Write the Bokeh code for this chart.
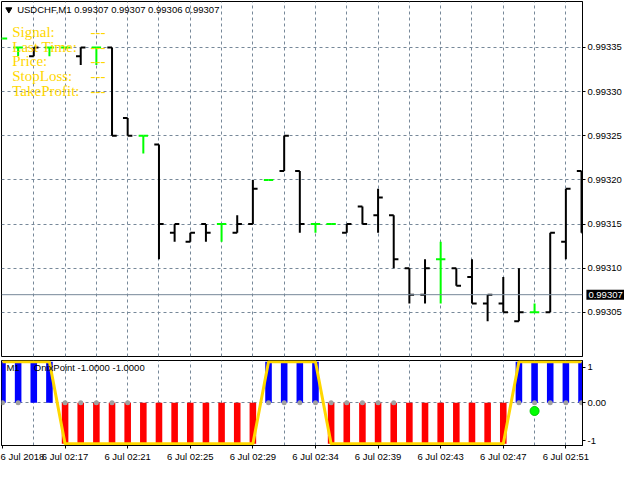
import numpy as np
from bokeh.plotting import figure
from bokeh.models import Range1d, FixedTicker, Label, Span, PrintfTickFormatter, ColumnDataSource, LinearAxis
from bokeh.layouts import column
from bokeh.embed import file_html
from bokeh.resources import INLINE

# ---------------- data ----------------
symbol = "USDCHF,M1"
header_quote = ["0.99307", "0.99307", "0.99306", "0.99307"]

opens = [0.99336, 0.99335, 0.99334, 0.99335, 0.99335, 0.99334, 0.99335, 0.99335, 0.99327, 0.99325,
         0.99324, 0.99314, 0.99313, 0.99315, 0.99315, 0.99314, 0.99315, 0.99320, 0.99321, 0.99321,
         0.99315, 0.99315, 0.99314, 0.99317, 0.99316, 0.99316, 0.99310, 0.99307, 0.99311, 0.99310,
         0.99309, 0.99306, 0.99306, 0.99304, 0.99305, 0.99305, 0.99313, 0.99321]
highs = [0.99336, 0.99335, 0.99335, 0.99335, 0.99335, 0.99335, 0.99335, 0.99335, 0.99327, 0.99325,
         0.99324, 0.99315, 0.99314, 0.99315, 0.99315, 0.99316, 0.99320, 0.99320, 0.99325, 0.99321,
         0.99315, 0.99315, 0.99315, 0.99317, 0.99319, 0.99316, 0.99310, 0.99311, 0.99313, 0.99310,
         0.99311, 0.99307, 0.99309, 0.99310, 0.99306, 0.99314, 0.99319, 0.99321]
lows = [0.99336, 0.99334, 0.99334, 0.99334, 0.99335, 0.99333, 0.99333, 0.99325, 0.99325, 0.99323,
        0.99311, 0.99313, 0.99313, 0.99313, 0.99313, 0.99314, 0.99315, 0.99320, 0.99321, 0.99314,
        0.99314, 0.99315, 0.99314, 0.99315, 0.99314, 0.99310, 0.99306, 0.99306, 0.99306, 0.99308,
        0.99306, 0.99304, 0.99305, 0.99304, 0.99305, 0.99305, 0.99311, 0.99314]
closes = [0.99336, 0.99335, 0.99335, 0.99335, 0.99335, 0.99335, 0.99335, 0.99325, 0.99325, 0.99325,
          0.99315, 0.99315, 0.99314, 0.99314, 0.99315, 0.99315, 0.99319, 0.99320, 0.99325, 0.99315,
          0.99315, 0.99315, 0.99315, 0.99315, 0.99318, 0.99311, 0.99307, 0.99310, 0.99311, 0.99308,
          0.99306, 0.99307, 0.99305, 0.99305, 0.99305, 0.99314, 0.99319, 0.99314]

current_price = 0.99307
price_ticks = [0.99305, 0.99310, 0.99315, 0.99320, 0.99325, 0.99330, 0.99335]

time_tick_bars = [0, 4, 8, 12, 16, 20, 24, 28, 32, 36]
time_tick_labels = ["6 Jul 2018", "6 Jul 02:17", "6 Jul 02:21", "6 Jul 02:25", "6 Jul 02:29",
                    "6 Jul 02:34", "6 Jul 02:39", "6 Jul 02:43", "6 Jul 02:47", "6 Jul 02:51"]

signal = [1, 1, 1, 1] + [-1] * 13 + [1, 1, 1, 1] + [-1] * 12 + [1] * 5
dot_bars = [0, 1, 4, 5, 6, 7, 8, 17, 18, 19, 20, 21, 22, 23, 24, 25, 33, 34, 35, 36, 37]
dot_values = [0.0] * len(dot_bars)
entry_bar = 34
entry_value = -0.2

# indicator scale levels and where their labels sit inside the sub-window
level_texts = ["-1", "0.00", "1"]
level_label_pos = [-0.92, 0.0, 0.87]

indicator_period = "M1"
indicator_name = "OnixPoint"
indicator_values = ["-1.0000", "-1.0000"]

info_labels = ["Signal:", "Last Time:", "Price:", "StopLoss:", "TakeProfit:"]
info_values = ["---", "---", "---", "---", "---"]

# ---------------- helpers (reference pixel -> data) ----------------
def main_xy(px, py):
    return (px - 3) / 16.0, 0.99305 + (322 - py) / 910000.0

def ind_xy(px, py):
    return (px - 3) / 16.0, (414 - py) / 43.0

GRID = "#778899"
FONT = "Liberation Sans"
n = len(opens)
idx = np.arange(n)
xr = Range1d(-0.0625, 37.0625)

# ---------------- main price chart ----------------
p1 = figure(width=624, height=358, x_range=xr, y_range=Range1d(0.99300, 0.993402),
            output_backend="svg", toolbar_location=None, x_axis_location=None,
            y_axis_location=None, min_border_left=1, min_border_right=42,
            min_border_top=1, min_border_bottom=2)
p1.background_fill_color = "white"
p1.border_fill_color = "white"
p1.outline_line_color = "black"
p1.outline_line_width = 1

p1.xgrid.ticker = FixedTicker(ticks=list(range(2, 37, 2)))
p1.ygrid.ticker = FixedTicker(ticks=price_ticks)
for g in (p1.xgrid, p1.ygrid):
    g.grid_line_color = GRID
    g.grid_line_dash = "3 3"
    g.grid_line_width = 1

# small tick marks on the price scale (no labels)
tick_axis = LinearAxis(ticker=FixedTicker(ticks=price_ticks),
                       major_label_overrides={t: "" for t in price_ticks})
tick_axis.major_tick_in = 0
tick_axis.major_tick_out = 3
tick_axis.major_label_standoff = 0
tick_axis.minor_tick_line_color = None
tick_axis.axis_line_color = "black"
tick_axis.major_tick_line_color = "black"
tick_axis.major_label_text_font_size = "9.5px"

# current price box on the price scale (side-panel label, so it is not clipped to the frame)
cx, _ = main_xy(600, 0)
price_box = Label(x=cx, y=current_price, text="%.5f" % current_price, text_font=FONT,
                  text_font_size="9.5px", text_color="white", text_baseline="middle",
                  text_align="left", background_fill_color="black", padding=2)

# price labels
ya = LinearAxis(ticker=FixedTicker(ticks=price_ticks), formatter=PrintfTickFormatter(format="%.5f"))
ya.major_tick_in = 0
ya.major_tick_out = 0
ya.minor_tick_line_color = None
ya.axis_line_color = None
ya.major_tick_line_color = None
ya.major_label_standoff = -36
ya.major_label_text_font = FONT
ya.major_label_text_font_size = "9.5px"
ya.major_label_text_color = "black"

p1.right = [tick_axis, price_box, ya]

p1.add_layout(Span(location=current_price, dimension="width", line_color=GRID, line_width=1))

o, h, l, c = (np.array(a) for a in (opens, highs, lows, closes))
doji = np.isclose(o, c)
bar_colors = np.where(doji, "#00FF00", "#000000")
src = ColumnDataSource(dict(x=idx, xl=idx - 0.3, xr=idx + 0.3, o=o, h=h, l=l, c=c, color=bar_colors))
p1.segment(x0="x", y0="l", x1="x", y1="h", line_color="color", line_width=2, source=src)
p1.segment(x0="xl", y0="o", x1="x", y1="o", line_color="color", line_width=2, source=src)
p1.segment(x0="x", y0="c", x1="xr", y1="c", line_color="color", line_width=2, source=src)

# header
tx, ty = main_xy(9.5, 10)
p1.scatter([tx], [ty], marker="inverted_triangle", size=6, color="black")
hx, hy = main_xy(18, 10)
p1.add_layout(Label(x=hx, y=hy, text=symbol + "  " + " ".join(header_quote), text_font=FONT,
                    text_font_size="9.5px", text_color="black", text_baseline="middle", text_align="left"))

# info block (gold serif)
for i, (lab, val) in enumerate(zip(info_labels, info_values)):
    lx, ly = main_xy(13, 33.5 + 15 * i)
    p1.add_layout(Label(x=lx, y=ly, text=lab, text_font="Liberation Serif", text_font_size="15px",
                        text_color="#FFD700", text_baseline="middle", text_align="left"))
    vx, vy = main_xy(93, 33.5 + 15 * i)
    p1.add_layout(Label(x=vx, y=vy, text=val, text_font="Liberation Serif", text_font_size="15px",
                        text_color="#FFD700", text_baseline="middle", text_align="left"))

# ---------------- indicator panel ----------------
p2 = figure(width=624, height=106, x_range=xr, y_range=Range1d(-1.04, 1.03),
            output_backend="svg", toolbar_location=None, y_axis_location="right",
            min_border_left=1, min_border_right=42, min_border_top=2, min_border_bottom=4)
p2.background_fill_color = "white"
p2.border_fill_color = "white"
p2.outline_line_color = "black"
p2.outline_line_width = 1

p2.xgrid.ticker = FixedTicker(ticks=list(range(2, 37, 2)))
p2.ygrid.ticker = FixedTicker(ticks=[0])
for g in (p2.xgrid, p2.ygrid):
    g.grid_line_color = GRID
    g.grid_line_dash = "3 3"
    g.grid_line_width = 1

xa = p2.xaxis[0]
xa.ticker = FixedTicker(ticks=time_tick_bars)
xa.major_label_overrides = {b: t for b, t in zip(time_tick_bars, time_tick_labels)}
xa.major_label_text_align = "left"
xa.major_tick_in = 0
xa.major_tick_out = 3
xa.minor_tick_line_color = None
xa.axis_line_color = "black"
xa.major_label_standoff = 2
xa.major_label_text_font = FONT
xa.major_label_text_font_size = "9.5px"
xa.major_label_text_color = "black"

ya2 = p2.yaxis[0]
ya2.ticker = FixedTicker(ticks=level_label_pos)
ya2.major_label_overrides = {p: t for p, t in zip(level_label_pos, level_texts)}
ya2.major_tick_in = 0
ya2.major_tick_out = 3
ya2.minor_tick_line_color = None
ya2.axis_line_color = "black"
ya2.major_label_standoff = 2
ya2.major_label_text_font = FONT
ya2.major_label_text_font_size = "9.5px"
ya2.major_label_text_color = "black"

sig = np.array(signal, dtype=float)
hist_colors = np.where(sig > 0, "#0000FF", "#FF0000")
p2.vbar(x=idx, top=sig, bottom=0, width=0.42, fill_color=hist_colors, line_color=None)
p2.scatter(dot_bars, dot_values, size=5, fill_color="#A0A0A0", line_color=None)
p2.line(idx, sig, line_color="#FFD700", line_width=3)
p2.scatter([entry_bar], [entry_value], size=9, fill_color="#00FF00", line_color="#00CC00")

mx, my = ind_xy(7, 377.5)
p2.add_layout(Label(x=mx, y=my, text=indicator_period, text_font=FONT, text_font_size="9.5px",
                    text_color="black", text_baseline="middle", text_align="left"))
nx, ny = ind_xy(35, 377.5)
p2.add_layout(Label(x=nx, y=ny, text=indicator_name + " " + " ".join(indicator_values), text_font=FONT,
                    text_font_size="9.5px", text_color="black", text_baseline="middle", text_align="left"))

layout = column(p1, p2, spacing=0)
open("out.html", "w").write(file_html(layout, INLINE))
